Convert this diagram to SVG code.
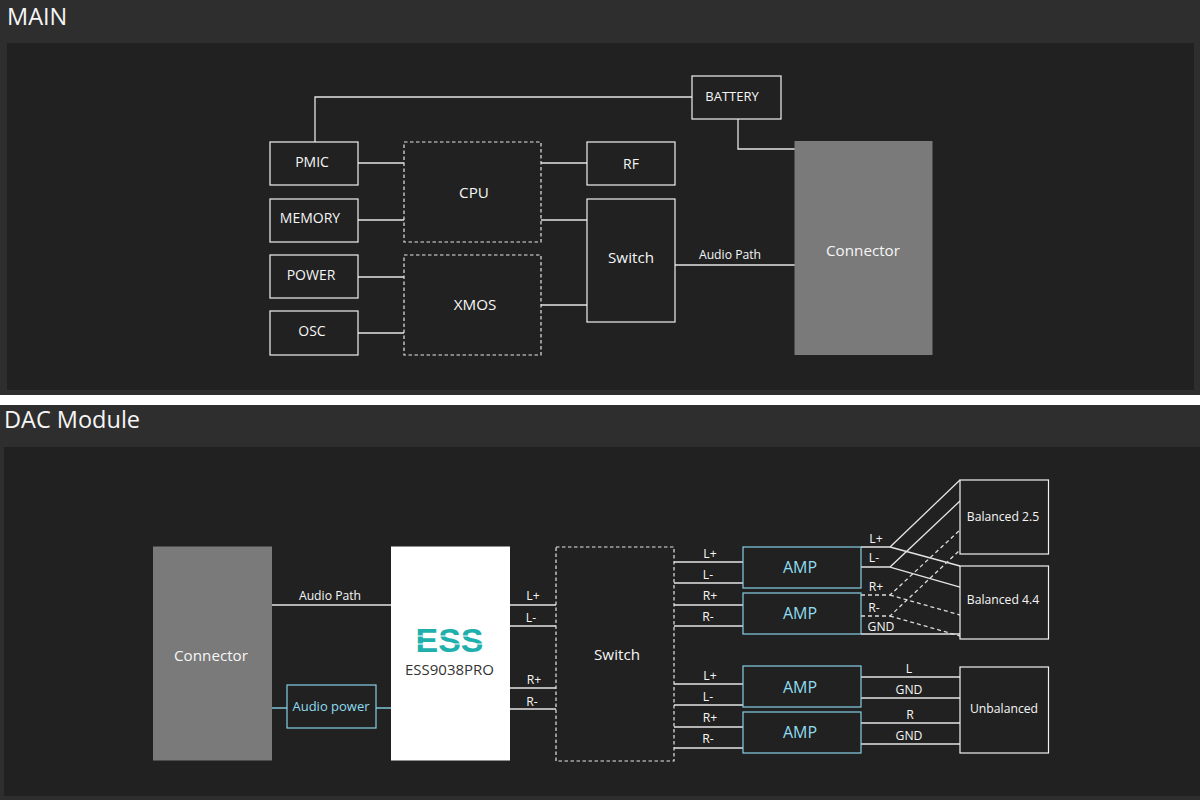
<svg xmlns="http://www.w3.org/2000/svg" width="1200" height="800" viewBox="0 0 1200 800">
<style>
text{font-family:"Open Sans","Noto Sans","Liberation Sans",sans-serif;fill:#f6f6f6;text-anchor:middle}
.h{font-size:23.500px;text-anchor:start}
.b{fill:#212121;stroke:#f0f0f0;stroke-width:1.2}
.d{fill:#212121;stroke:#e6e6e6;stroke-width:1.2;stroke-dasharray:3.5 2.5}
.a{fill:#212121;stroke:#86d0e4;stroke-width:1.2}
.g{fill:#7a7a7a}
.l{fill:none;stroke:#e4e4e4;stroke-width:1.3}
.ld{fill:none;stroke:#dcdcdc;stroke-width:1.3;stroke-dasharray:4 3}
.c{fill:none;stroke:#7cc4d6;stroke-width:1.3}
.t14{font-size:14px}.t13{font-size:13px}.t12{font-size:12.200px}
.t15{font-size:15.200px}
.amp{font-size:16px}
.blue{fill:#90dcf0}
</style>
<rect width="1200" height="800" fill="#2e2e2e"/>
<rect y="395" width="1200" height="10" fill="#fff"/>
<rect x="7" y="43" width="1187" height="347" fill="#212121"/>
<rect x="4" y="447" width="1196" height="349" fill="#212121"/>
<text class="h" x="7" y="25">MAIN</text>
<text class="h" x="4" y="428">DAC Module</text>

<g id="connectors">
<path class="l" d="M315 142V97H692M738 119V149H795M358 163H404M358 220H404M358 277H404M358 333H404M541 163H587M541 220H587M541 305H587M675 265H795"/>
<path class="l" d="M272 605H391M510 605H556M510 626H556M510 688H556M510 709H556"/>
<path class="c" d="M272 708H287M376 708H391"/>
<path class="l" d="M674 562H743M674 583H743M674 605H743M674 626H743M674 684H743M674 705H743M674 727H743M674 748H743"/>
<path class="l" d="M861 547H890L960 480M861 567H890L960 501M890 547L960 566M890 567L960 587M861 634H960"/>
<path class="ld" d="M861 595H890L960 530M861 616H890L960 550M890 595L960 615M890 616L960 636"/>
<path class="l" d="M861 677H960M861 698H960M861 723H960M861 744H960"/>
</g>

<g id="battery"><rect class="b" x="692" y="76" width="89" height="43"/><text class="t13" x="732" y="101">BATTERY</text></g>
<g id="pmic"><rect class="b" x="270" y="142" width="88" height="43"/><text class="t14" x="312" y="167">PMIC</text></g>
<g id="memory"><rect class="b" x="270" y="199" width="88" height="43"/><text class="t14" x="310" y="223">MEMORY</text></g>
<g id="power"><rect class="b" x="270" y="255" width="88" height="43"/><text class="t14" x="311" y="280">POWER</text></g>
<g id="osc"><rect class="b" x="270" y="311" width="88" height="44"/><text class="t14" x="312" y="336">OSC</text></g>
<g id="cpu"><rect class="d" x="404" y="142" width="137" height="100"/><text class="t15" x="474" y="198">CPU</text></g>
<g id="xmos"><rect class="d" x="404" y="255" width="137" height="100"/><text class="t15" x="475" y="310">XMOS</text></g>
<g id="rf"><rect class="b" x="587" y="142" width="88" height="43"/><text class="t14" x="631" y="169">RF</text></g>
<g id="switch-main"><rect class="b" x="587" y="199" width="88" height="123"/><text class="t15" x="631" y="263">Switch</text></g>
<g id="connector-main"><rect class="g" x="794.500" y="141" width="138" height="214"/><text class="t15" x="863" y="256">Connector</text></g>
<text class="t12" x="730" y="259">Audio Path</text>

<g id="connector-dac"><rect class="g" x="153" y="546.500" width="119" height="214"/><text class="t15" x="211" y="661">Connector</text></g>
<text class="t12" x="330" y="600">Audio Path</text>
<g id="audio-power"><rect class="a" x="287" y="685" width="89" height="43"/><text class="t13 blue" x="331" y="711">Audio power</text></g>
<g id="ess9038pro"><rect x="391" y="546.500" width="119" height="214" fill="#fff"/>
<text x="449.500" y="652" font-size="33" font-weight="700" textLength="68" lengthAdjust="spacingAndGlyphs" style="fill:#1fb0ad;font-family:'Liberation Sans',sans-serif">ESS</text>
<path d="M415 636H484M415 644H484" stroke="#fff" stroke-width="1.200"/>
<text x="449.500" y="675" font-size="15" style="fill:#333">ESS9038PRO</text></g>
<g id="switch-dac"><rect class="d" x="556" y="547" width="118" height="214"/><text class="t15" x="617" y="660">Switch</text></g>
<g id="amp1"><rect class="a" x="743" y="547" width="118" height="41"/><text class="amp blue" x="800" y="573">AMP</text></g>
<g id="amp2"><rect class="a" x="743" y="593" width="118" height="41"/><text class="amp blue" x="800" y="619">AMP</text></g>
<g id="amp3"><rect class="a" x="743" y="666" width="118" height="41"/><text class="amp blue" x="800" y="693">AMP</text></g>
<g id="amp4"><rect class="a" x="743" y="712" width="118" height="41"/><text class="amp blue" x="800" y="738">AMP</text></g>
<g id="balanced25"><rect class="b" x="960" y="480" width="88.500" height="74"/><text class="t12" x="1003" y="521">Balanced 2.5</text></g>
<g id="balanced44"><rect class="b" x="960" y="566" width="88.500" height="73"/><text class="t12" x="1003" y="604">Balanced 4.4</text></g>
<g id="unbalanced"><rect class="b" x="960" y="667" width="88.500" height="86"/><text class="t12" x="1004" y="713">Unbalanced</text></g>

<g id="labels">
<text class="t12" x="533" y="600">L+</text><text class="t12" x="531" y="622">L-</text><text class="t12" x="534" y="684">R+</text><text class="t12" x="532" y="706">R-</text>
<text class="t12" x="710" y="558">L+</text><text class="t12" x="708" y="579">L-</text><text class="t12" x="710" y="600">R+</text><text class="t12" x="708" y="621">R-</text>
<text class="t12" x="710" y="680">L+</text><text class="t12" x="708" y="701">L-</text><text class="t12" x="710" y="722">R+</text><text class="t12" x="708" y="743">R-</text>
<text class="t12" x="876" y="543">L+</text><text class="t12" x="874" y="562">L-</text><text class="t12" x="876" y="591">R+</text><text class="t12" x="874" y="612">R-</text><text class="t12" x="881" y="631">GND</text>
<text class="t12" x="909" y="673">L</text><text class="t12" x="909" y="694">GND</text><text class="t12" x="910" y="719">R</text><text class="t12" x="909" y="740">GND</text>
</g>
</svg>
